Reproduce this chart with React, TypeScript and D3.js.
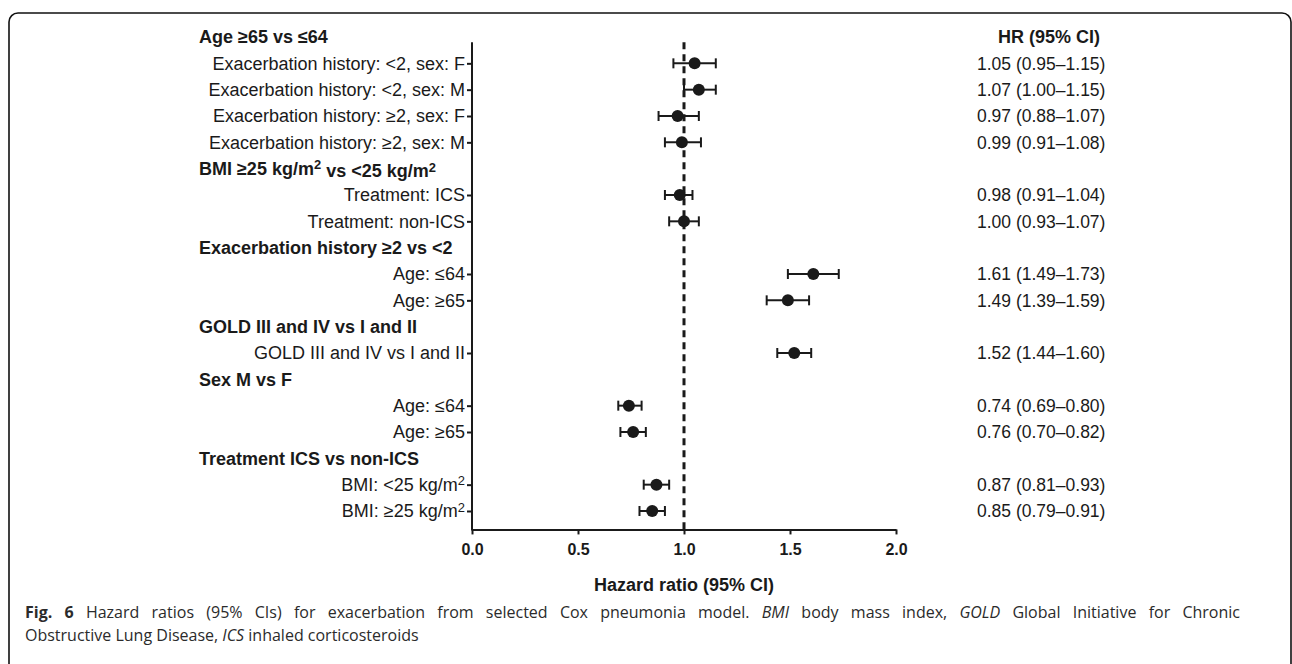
import React, { useEffect, useRef } from 'react';
import * as d3 from 'd3';

// group headers (bold) and the rows under each
const groups = [
  'Age ≥65 vs ≤64',
  'BMI ≥25 kg/m² vs <25 kg/m²',
  'Exacerbation history ≥2 vs <2',
  'GOLD III and IV vs I and II',
  'Sex M vs F',
  'Treatment ICS vs non-ICS',
];
const rowGroup = [0, 0, 0, 0, 1, 1, 2, 2, 3, 4, 4, 5, 5];
const rowLabels = [
  'Exacerbation history: <2, sex: F',
  'Exacerbation history: <2, sex: M',
  'Exacerbation history: ≥2, sex: F',
  'Exacerbation history: ≥2, sex: M',
  'Treatment: ICS',
  'Treatment: non-ICS',
  'Age: ≤64',
  'Age: ≥65',
  'GOLD III and IV vs I and II',
  'Age: ≤64',
  'Age: ≥65',
  'BMI: <25 kg/m²',
  'BMI: ≥25 kg/m²',
];
const hr = [1.05, 1.07, 0.97, 0.99, 0.98, 1.0, 1.61, 1.49, 1.52, 0.74, 0.76, 0.87, 0.85];
const lo = [0.95, 1.0, 0.88, 0.91, 0.91, 0.93, 1.49, 1.39, 1.44, 0.69, 0.7, 0.81, 0.79];
const hi = [1.15, 1.15, 1.07, 1.08, 1.04, 1.07, 1.73, 1.59, 1.6, 0.8, 0.82, 0.93, 0.91];
const xTicks = [0, 0.5, 1, 1.5, 2];

const INK = '#1a1a1a';
const FONT = '"Liberation Sans", Arial, sans-serif';

// write text, turning "²" into a raised 2
const addLabel = (sel: any, label: string) => {
  const parts = label.split('²');
  let raised = false;
  parts.forEach((p, i) => {
    if (p) {
      const t = sel.append('tspan').text(p);
      if (raised) { t.attr('dy', '0.45em'); raised = false; }
    }
    if (i < parts.length - 1) {
      sel.append('tspan').attr('dy', '-0.45em').style('font-size', '0.72em').text('2');
      raised = true;
    }
  });
};

const App = () => {
  const svgRef = useRef<SVGSVGElement>(null);

  useEffect(() => {
    const svg = d3.select(svgRef.current);
    svg.selectAll('*').remove();

    // slots: header, then its rows
    const slots: { kind: string; idx: number }[] = [];
    groups.forEach((g, gi) => {
      slots.push({ kind: 'head', idx: gi });
      rowGroup.forEach((rg, ri) => { if (rg === gi) slots.push({ kind: 'row', idx: ri }); });
    });
    const rowSlot: number[] = [];
    slots.forEach((s, i) => { if (s.kind === 'row') rowSlot[s.idx] = i; });

    const x = d3.scaleLinear().domain([0, 2]).range([472, 896]);
    const y = d3.scaleLinear().domain([0, slots.length - 1]).range([37, 511]);
    const axisY = y(18.7);
    const axisTop = y(0.2);

    // frame
    svg.append('rect')
      .attr('x', 9).attr('y', 13).attr('width', 1282).attr('height', 700)
      .attr('rx', 9).attr('fill', 'none').attr('stroke', '#111').attr('stroke-width', 1.6);

    // reference line at HR = 1
    svg.append('line')
      .attr('x1', x(1)).attr('x2', x(1)).attr('y1', axisTop).attr('y2', axisY)
      .attr('stroke', INK).attr('stroke-width', 3).attr('stroke-dasharray', '7,5');

    // y axis
    svg.append('line')
      .attr('x1', x(0)).attr('x2', x(0)).attr('y1', axisTop).attr('y2', axisY + 1)
      .attr('stroke', INK).attr('stroke-width', 2);
    const yAxis = svg.append('g')
      .attr('transform', `translate(${x(0)},0)`)
      .call(d3.axisLeft(y).tickValues(rowSlot).tickSize(5).tickFormat(() => ''));
    yAxis.select('.domain').remove();
    yAxis.selectAll('line').attr('stroke', INK).attr('stroke-width', 2);

    // x axis
    const xAxis = svg.append('g')
      .attr('transform', `translate(0,${axisY})`)
      .call(d3.axisBottom(x).tickValues(xTicks).tickSize(5).tickSizeOuter(0).tickPadding(9).tickFormat(d3.format('.1f')));
    xAxis.select('.domain').attr('stroke', INK).attr('stroke-width', 2);
    xAxis.selectAll('line').attr('stroke', INK).attr('stroke-width', 2);
    xAxis.selectAll('text')
      .attr('fill', INK).style('font-family', FONT).style('font-size', '16px').style('font-weight', 'bold');

    svg.append('text')
      .attr('x', x(1)).attr('y', 591).attr('text-anchor', 'middle')
      .attr('fill', INK).style('font-family', FONT).style('font-size', '18px').style('font-weight', 'bold')
      .text('Hazard ratio (95% CI)');

    // headers
    groups.forEach((g, gi) => {
      const si = slots.findIndex(s => s.kind === 'head' && s.idx === gi);
      const t = svg.append('text')
        .attr('x', 199).attr('y', y(si)).attr('dy', '0.36em')
        .attr('fill', INK).style('font-family', FONT).style('font-size', '18px').style('font-weight', 'bold');
      addLabel(t, g);
    });

    // row labels
    rowLabels.forEach((l, i) => {
      const t = svg.append('text')
        .attr('x', 465).attr('y', y(rowSlot[i])).attr('dy', '0.36em').attr('text-anchor', 'end')
        .attr('fill', INK).style('font-family', FONT).style('font-size', '18px');
      addLabel(t, l);
    });

    // error bars and points
    const g = svg.append('g').attr('stroke', INK).attr('stroke-width', 2);
    hr.forEach((v, i) => {
      const cy = y(rowSlot[i]);
      g.append('line').attr('x1', x(lo[i])).attr('x2', x(hi[i])).attr('y1', cy).attr('y2', cy);
      g.append('line').attr('x1', x(lo[i])).attr('x2', x(lo[i])).attr('y1', cy - 5).attr('y2', cy + 5);
      g.append('line').attr('x1', x(hi[i])).attr('x2', x(hi[i])).attr('y1', cy - 5).attr('y2', cy + 5);
      g.append('circle').attr('cx', x(v)).attr('cy', cy).attr('r', 6).attr('fill', INK).attr('stroke', 'none');
    });

    // HR column
    svg.append('text')
      .attr('x', 998).attr('y', y(0)).attr('dy', '0.36em')
      .attr('fill', INK).style('font-family', FONT).style('font-size', '18px').style('font-weight', 'bold')
      .text('HR (95% CI)');
    hr.forEach((v, i) => {
      svg.append('text')
        .attr('x', 977).attr('y', y(rowSlot[i])).attr('dy', '0.36em')
        .attr('fill', INK).style('font-family', FONT).style('font-size', '17.5px')
        .text(`${v.toFixed(2)} (${lo[i].toFixed(2)}–${hi[i].toFixed(2)})`);
    });

    // caption (first line justified to the text block width)
    const cap = svg.append('g')
      .attr('fill', '#2b2b2b').style('font-family', '"Open Sans", sans-serif').style('font-size', '16px');
    const l1 = cap.append('text').attr('x', 25).attr('y', 618);
    l1.append('tspan').style('font-weight', 'bold').text('Fig. 6');
    l1.append('tspan').text(' Hazard ratios (95% CIs) for exacerbation from selected Cox pneumonia model. ');
    l1.append('tspan').style('font-style', 'italic').text('BMI');
    l1.append('tspan').text(' body mass index, ');
    l1.append('tspan').style('font-style', 'italic').text('GOLD');
    l1.append('tspan').text(' Global Initiative for Chronic');
    const node = l1.node() as SVGTextElement;
    const len = node.getComputedTextLength();
    const spaces = (node.textContent || '').split(' ').length - 1;
    const target = 1240 - 25;
    if (len < target && spaces > 0) l1.style('word-spacing', `${(target - len) / spaces}px`);
    const l2 = cap.append('text').attr('x', 25).attr('y', 641);
    l2.append('tspan').text('Obstructive Lung Disease, ');
    l2.append('tspan').style('font-style', 'italic').text('ICS');
    l2.append('tspan').text(' inhaled corticosteroids');
  }, []);

  return (
    <svg ref={svgRef} width={1292} height={664}
      style={{ position: 'absolute', left: 0, top: 0, background: '#fff' }} />
  );
};

export default App;
